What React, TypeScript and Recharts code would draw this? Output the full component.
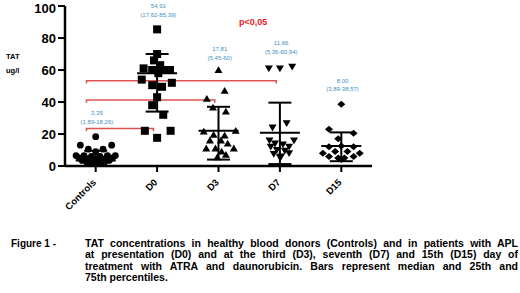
import React from "react";
import { ComposedChart, Scatter, Line, XAxis, YAxis, ErrorBar } from "recharts";

const groups = ["Controls", "D0", "D3", "D7", "D15"];

// each point: [offset inside the column, TAT ug/l]
const controlsPoints = [
  [0, 18.3], [-0.25, 13], [0.26, 13], [-0.12, 10.5], [0.12, 10.5], [0, 9],
  [-0.32, 6.5], [-0.19, 6.5], [0.19, 6.5], [0.32, 6.5], [-0.07, 6], [0.07, 6],
  [-0.27, 5], [0.27, 5], [-0.15, 4.5], [0.15, 4.5], [0, 4.2], [-0.22, 3.5],
  [0.22, 3.5], [-0.1, 3], [0.1, 3], [-0.14, 2.2], [0.14, 2.2], [-0.05, 1.9],
  [0.05, 1.9], [0, 1.5],
];
const d0Points = [
  [0, 85.4], [0, 70], [-0.05, 66], [0.05, 63], [-0.22, 61], [-0.08, 60],
  [0.08, 60], [0.21, 60], [0.02, 58], [-0.25, 54], [0.24, 52], [-0.08, 50.5],
  [0.08, 49.5], [0, 43], [-0.08, 38], [0.1, 32], [-0.2, 22], [0.22, 22], [0, 17.6],
];
const d3Points = [
  [0, 60], [0.1, 47], [-0.19, 42], [-0.09, 36.5], [0.12, 34], [-0.24, 21.5],
  [0.28, 22], [-0.08, 19.5], [0.1, 19], [-0.14, 16], [0.04, 16], [0.15, 14],
  [-0.2, 11], [-0.05, 11], [0.25, 11], [0.05, 9], [-0.02, 5.5], [0.12, 7],
];
const d7Points = [
  [-0.18, 61], [0, 61], [0.2, 62], [0.11, 26.7], [-0.12, 24], [-0.17, 16],
  [0.23, 16], [-0.08, 14], [0.05, 13.5], [-0.15, 12], [0.15, 12], [-0.05, 10],
  [0.08, 9.5], [0.15, 8], [-0.1, 7.5], [0.02, 6], [0, 5.4],
];
const d15Points = [
  [0, 38.6], [-0.2, 23], [0.2, 20.5], [-0.05, 17], [-0.2, 12], [0.2, 12],
  [0, 12.5], [-0.3, 8], [-0.1, 9], [0.1, 9], [0.3, 8], [-0.2, 6], [0.2, 6],
  [-0.05, 5], [0.05, 5], [0, 4],
];

const medians = [3.4, 58, 22, 20.8, 12.5];
const lowerQuartiles = [1.5, 34, 4, 1.2, 3];
const upperQuartiles = [9.5, 70, 37, 39.6, 21];

const medianLabels = ["3,35", "54,91", "17,81", "11,66", "8,00"];
const rangeLabels = ["(1,89-18,26)", "(17,62-85,39)", "(5,45-60)", "(5,36-60,94)", "(3,89-38,57)"];
const labelHeights = [33, 100, 73, 76.7, 53.3];

// significance brackets from Controls to the given column
const bracketTargets = [1, 2, 3];
const bracketHeights = [23.5, 41.3, 53.3];

const toPoints = (list: number[][], i: number) =>
  list.map(([dx, v]) => ({ x: i + dx, y: v }));

const summary = groups.map((g, i) => ({
  x: i,
  y: medians[i],
  err: [medians[i] - lowerQuartiles[i], upperQuartiles[i] - medians[i]],
}));

const labels = groups.map((g, i) => ({
  x: i + 0.02,
  y: labelHeights[i],
  median: medianLabels[i],
  range: rangeLabels[i],
}));

const brackets = bracketTargets.map((to, i) => [
  { x: -0.15, y: bracketHeights[i] - 1.8 },
  { x: -0.15, y: bracketHeights[i] },
  { x: to - 0.06, y: bracketHeights[i] },
  { x: to - 0.06, y: bracketHeights[i] - 1.8 },
]);

const RED = "#e05252";
const BLUE = "#3f8fc2";

const Dot = ({ cx, cy }: any) => <circle cx={cx} cy={cy} r={3.4} fill="#000" />;
const Square = ({ cx, cy }: any) => (
  <rect x={cx - 4} y={cy - 4} width={8} height={8} fill="#000" />
);
const TriangleUp = ({ cx, cy }: any) => (
  <path d={`M${cx},${cy - 3.8}L${cx + 4},${cy + 3}L${cx - 4},${cy + 3}Z`} fill="#000" />
);
const TriangleDown = ({ cx, cy }: any) => (
  <path d={`M${cx},${cy + 3.8}L${cx + 4},${cy - 3}L${cx - 4},${cy - 3}Z`} fill="#000" />
);
const Diamond = ({ cx, cy }: any) => (
  <path d={`M${cx},${cy - 3.5}L${cx + 4},${cy}L${cx},${cy + 3.5}L${cx - 4},${cy}Z`} fill="#000" />
);
const MedianBar = ({ cx, cy }: any) => (
  <line x1={cx - 20} x2={cx + 20} y1={cy} y2={cy} stroke="#000" strokeWidth={2} />
);
const ValueLabel = ({ cx, cy, payload }: any) => (
  <g fontFamily="Liberation Sans, Arial, sans-serif" fontSize={6} fill={BLUE} textAnchor="middle">
    <text x={cx} y={cy} dy="0.35em">{payload.median}</text>
    <text x={cx} y={cy + 8.5} dy="0.35em">{payload.range}</text>
  </g>
);

const AngledTick = ({ x, y, payload }: any) => {
  const tx = x + 1;
  const ty = y + 9;
  return (
    <text
      x={tx}
      y={ty}
      transform={`rotate(-45 ${tx} ${ty})`}
      textAnchor="end"
      fontFamily="Liberation Sans, Arial, sans-serif"
      fontWeight="bold"
      fontSize={9.5}
      fill="#000"
    >
      {groups[payload.value]}
    </text>
  );
};

const series = [
  { name: "Controls", data: controlsPoints, shape: Dot },
  { name: "D0", data: d0Points, shape: Square },
  { name: "D3", data: d3Points, shape: TriangleUp },
  { name: "D7", data: d7Points, shape: TriangleDown },
  { name: "D15", data: d15Points, shape: Diamond },
];

const captionLines = [
  "TAT concentrations in healthy blood donors (Controls) and in patients with APL",
  "at presentation (D0) and at the third (D3), seventh (D7) and 15th (D15) day of",
  "treatment with ATRA and daunorubicin. Bars represent median and 25th and",
  "75th percentiles.",
];

const App = () => {
  return (
    <div
      style={{
        position: "absolute",
        left: 0,
        top: 0,
        width: 520,
        height: 293,
        background: "#fff",
        fontFamily: "Liberation Sans, Arial, sans-serif",
      }}
    >
      <ComposedChart
        width={520}
        height={230}
        margin={{ top: 6, right: 148, bottom: 14, left: 5 }}
      >
        <XAxis
          type="number"
          dataKey="x"
          domain={[-0.5, 4.5]}
          ticks={[0, 1, 2, 3, 4]}
          interval={0}
          height={50}
          tickSize={6}
          tick={<AngledTick />}
          axisLine={{ stroke: "#000", strokeWidth: 2.5 }}
          tickLine={{ stroke: "#000", strokeWidth: 2 }}
        />
        <YAxis
          type="number"
          dataKey="y"
          domain={[0, 100]}
          ticks={[0, 20, 40, 60, 80, 100]}
          width={60}
          tickSize={7}
          tickMargin={2}
          tick={{ fill: "#000", fontSize: 13, fontWeight: "bold" }}
          axisLine={{ stroke: "#000", strokeWidth: 2.5 }}
          tickLine={{ stroke: "#000", strokeWidth: 2 }}
        />
        {brackets.map((b, i) => (
          <Line
            key={"b" + i}
            data={b}
            dataKey="y"
            type="linear"
            stroke={RED}
            strokeWidth={1.5}
            dot={false}
            activeDot={false}
            isAnimationActive={false}
          />
        ))}
        {series.map((s, i) => (
          <Scatter
            key={s.name}
            name={s.name}
            data={toPoints(s.data, i)}
            dataKey="y"
            shape={s.shape}
            isAnimationActive={false}
          />
        ))}
        <Scatter data={summary} dataKey="y" shape={MedianBar} isAnimationActive={false}>
          <ErrorBar dataKey="err" direction="y" width={11.5} stroke="#000" strokeWidth={2} />
        </Scatter>
        <Scatter data={labels} dataKey="y" shape={ValueLabel} isAnimationActive={false} />
      </ComposedChart>

      <div
        style={{
          position: "absolute",
          left: 239,
          top: 17,
          color: "#e8202a",
          fontWeight: "bold",
          fontSize: 9,
          lineHeight: "11px",
        }}
      >
        p&lt;0,05
      </div>
      <div
        style={{
          position: "absolute",
          left: 6,
          top: 50,
          fontWeight: "bold",
          fontSize: 7.5,
          lineHeight: "14px",
        }}
      >
        <div>TAT</div>
        <div>ug/l</div>
      </div>

      <div
        style={{
          position: "absolute",
          left: 11,
          top: 238,
          fontWeight: "bold",
          fontSize: 10,
          lineHeight: "11.35px",
        }}
      >
        Figure 1 -
      </div>
      <div
        style={{
          position: "absolute",
          left: 85,
          top: 238,
          width: 433,
          fontWeight: "bold",
          fontSize: 10.5,
          lineHeight: "11.35px",
        }}
      >
        {captionLines.map((line, i) => (
          <div
            key={i}
            style={{
              whiteSpace: "nowrap",
              textAlign: "justify",
              textAlignLast: i < captionLines.length - 1 ? "justify" : "left",
            }}
          >
            {line}
          </div>
        ))}
      </div>
    </div>
  );
};

export default App;
